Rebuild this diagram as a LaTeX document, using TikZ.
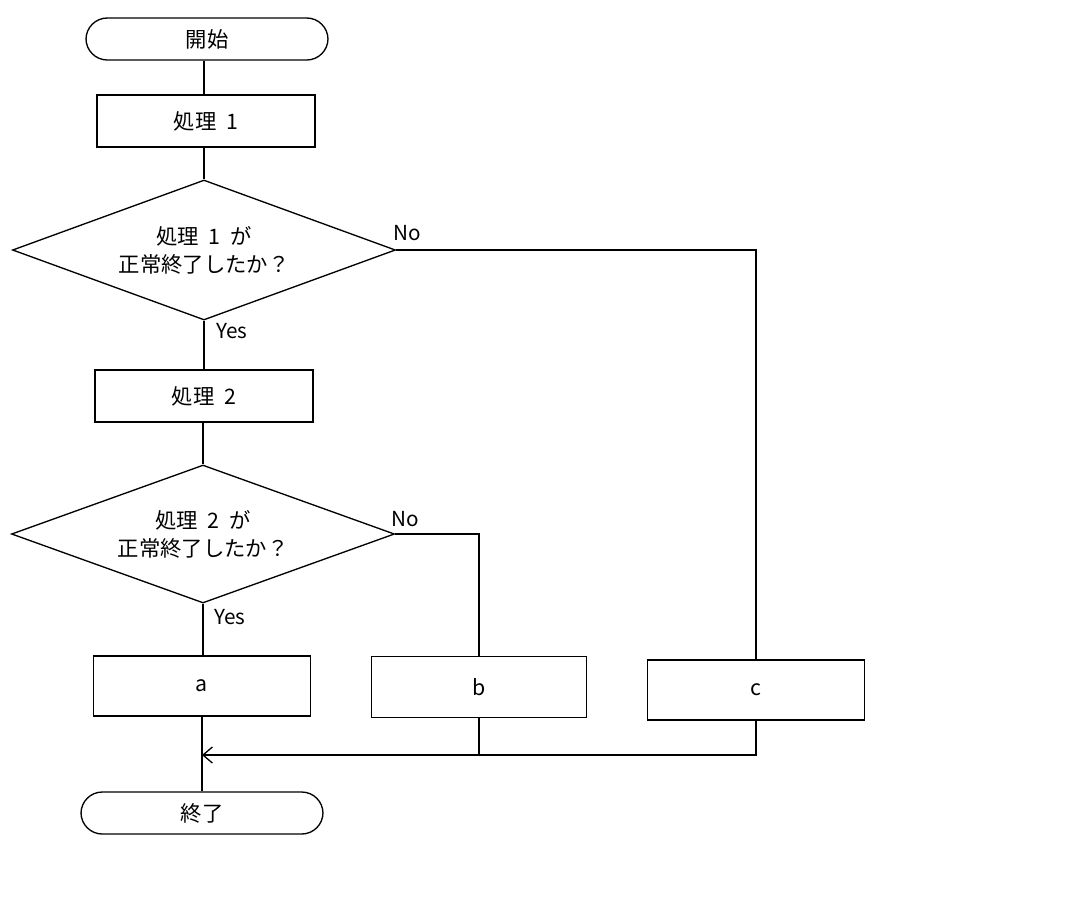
\documentclass[tikz,border=0pt]{standalone}
\usepackage{fontspec}
\setmainfont{Noto Sans CJK JP}
\usetikzlibrary{shapes.geometric,arrows.meta}
\begin{document}
\begin{tikzpicture}[x=0.75pt,y=-0.75pt,line width=1pt,
  lbl/.style={font=\fontsize{15.5}{17}\selectfont,inner sep=0pt},
  box/.style={draw,minimum width=218*0.75pt,minimum height=52*0.75pt,font=\fontsize{16}{18}\selectfont},
  term/.style={draw,rounded corners=16pt,minimum width=242*0.75pt,minimum height=42*0.75pt,font=\fontsize{16}{18}\selectfont},
  dia/.style={draw,diamond,aspect=2.75,inner sep=0pt,minimum width=383*0.75pt,minimum height=140*0.75pt,align=center,font=\fontsize{16}{21}\selectfont}]
\useasboundingbox (0,0) rectangle (1069,922);
\node[term] (start) at (207,39) {開始};
\node[box] (p1) at (206,121) {処理\ \ 1};
\node[dia,minimum height=140*0.75pt] (d1) at (204,250) {処理\ \ 1\ \ が\\正常終了したか？};
\node[box] (p2) at (204,396) {処理\ \ 2};
\node[dia,minimum height=138*0.75pt] (d2) at (203,534) {処理\ \ 2\ \ が\\正常終了したか？};
\node[box,minimum height=60*0.75pt,minimum width=217*0.75pt] (a) at (202,686) {a};
\node[box,minimum height=61*0.75pt,minimum width=215*0.75pt] (b) at (479,687) {b};
\node[box,minimum height=60*0.75pt,minimum width=217*0.75pt] (c) at (756,690) {c};
\node[term] (end) at (202,813) {終了};
\node[lbl] (no1) at (407,233) {No};
\node[lbl] (yes1) at (232,331) {Yes};
\node[lbl] (no2) at (405,519) {No};
\node[lbl] (yes2) at (230,617) {Yes};
\coordinate (m) at (202,755);
\draw (d1.north |- start.south) -- (d1.north |- p1.north);
\draw (d1.north |- p1.south) -- (d1.north);
\draw (d1.south) -- (d1.south |- p2.north);
\draw (d2.north |- p2.south) -- (d2.north);
\draw (d2.south) -- (d2.south |- a.north);
\draw (a.south) -- (end.north -| a.south);
\draw (d1.east) -| (c.north);
\draw (d2.east) -| (b.north);
\draw (b.south) |- (m);
\draw[-{Straight Barb[length=7pt,width=12pt]}] (c.south) |- (m);
\end{tikzpicture}
\end{document}
